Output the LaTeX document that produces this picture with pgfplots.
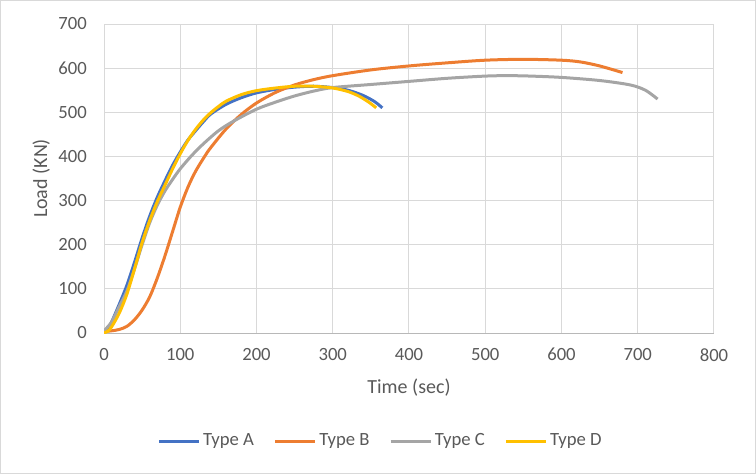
\documentclass[border=0pt]{standalone}
\usepackage{fontspec}
\setmainfont{Carlito}
\usepackage{pgfplots}
\pgfplotsset{compat=1.18}
\newlength\px \setlength\px{0.75bp}
\definecolor{cA}{HTML}{4472C4}
\definecolor{cB}{HTML}{ED7D31}
\definecolor{cC}{HTML}{A5A5A5}
\definecolor{cD}{HTML}{FFC000}
\definecolor{txt}{HTML}{595959}
\definecolor{grd}{HTML}{D9D9D9}
\begin{document}
\fontsize{14bp}{16bp}\selectfont
\begin{tikzpicture}
\draw[color=grd, line width=1\px] (0.5\px,0.5\px) rectangle (755.5\px,473.5\px);
\begin{axis}[
  at={(104\px,141\px)}, anchor=south west, scale only axis,
  width=610\px, height=309\px,
  xmin=0, xmax=800, ymin=0, ymax=700,
  xtick distance=100, ytick distance=100,
  grid=major, major grid style={color=grd, line width=1\px},
  axis x line=bottom, axis y line=left,
  x axis line style={-, color=grd!85!black, line width=1\px},
  y axis line style={draw=none},
  major tick length=0pt,
  /pgf/number format/assume math mode=true,
  tick label style={color=txt, font=\fontsize{14bp}{16bp}\selectfont, inner sep=0pt},
  yticklabel style={anchor=east, xshift=-17\px},
  xticklabel style={anchor=north, yshift=-15\px},
  xlabel={Time (sec)}, ylabel={Load (KN)},
  label style={color=txt, font=\fontsize{15bp}{17bp}\selectfont},
  xlabel style={at={(axis description cs:0.5,-0.178)}, anchor=center},
  ylabel style={at={(axis description cs:-0.103,0.5)}, anchor=center},
  legend columns=4,
  legend style={at={(axis description cs:0.454,-0.35)}, anchor=center, draw=none, fill=none,
    font=\fontsize{14bp}{16bp}\selectfont, text=txt,
    /tikz/every even column/.append style={column sep=17\px}},
  legend image code/.code={\draw[#1] (0pt,0pt) -- (40\px,0pt);},
  every axis plot/.append style={line width=2.25bp, smooth},
]
\addplot[cA] coordinates {(0,3)(5,10)(10,25)(20,65)(30,108)(40,160)(50,215)(60,265)(70,308)(80,345)(90,380)(100,410)(110,437)(120,458)(130,478)(140,496)(160,518)(180,533)(200,544)(225,552)(250,557)(275,559)(300,556)(320,550)(340,538)(355,524)(365,510)};
\addlegendentry{Type A}
\addplot[cB] coordinates {(0,3)(10,5)(20,8)(30,15)(40,30)(50,52)(60,82)(70,125)(80,175)(90,230)(100,285)(110,330)(120,366)(132,400)(140,420)(160,462)(180,495)(200,521)(225,545)(250,562)(275,574)(300,583)(350,596)(400,605)(450,612)(500,618)(550,620)(600,618)(625,614)(650,605)(680,590)};
\addlegendentry{Type B}
\addplot[cC] coordinates {(0,5)(10,25)(20,60)(30,95)(40,145)(50,200)(60,250)(70,290)(80,322)(90,348)(100,372)(115,402)(130,428)(150,458)(170,480)(200,507)(225,523)(250,537)(275,548)(300,556)(350,563)(400,570)(450,577)(500,582)(530,583)(560,582)(600,579)(650,572)(690,562)(710,550)(726,530)};
\addlegendentry{Type C}
\addplot[cD] coordinates {(0,0)(5,4)(10,14)(20,45)(30,88)(40,145)(50,205)(60,255)(70,298)(80,335)(90,372)(100,406)(110,436)(120,461)(130,482)(140,499)(150,513)(160,525)(180,540)(200,549)(225,555)(250,559)(275,559)(300,555)(320,547)(335,536)(348,522)(357,510)};
\addlegendentry{Type D}
\end{axis}
\end{tikzpicture}
\end{document}
